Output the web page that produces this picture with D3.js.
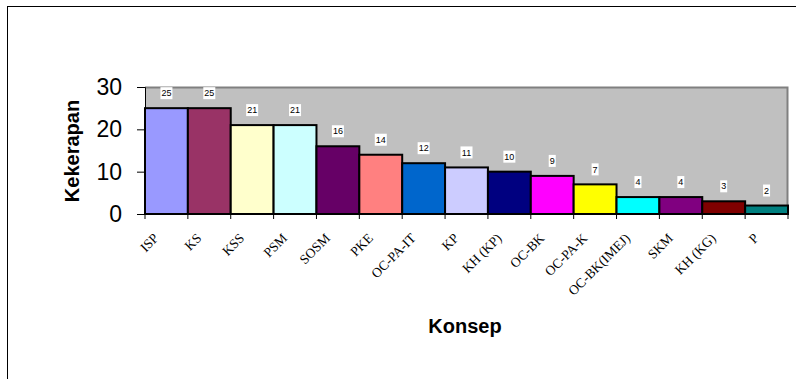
<!DOCTYPE html>
<html>
<head>
<meta charset="utf-8">
<script src="https://cdn.jsdelivr.net/npm/d3@7"></script>
<style>
  html, body { margin: 0; padding: 0; background: #fff; }
  svg { display: block; }
</style>
</head>
<body>
<script>
// Frequency of each concept (Konsep) and its bar colour
const categories = ["ISP", "KS", "KSS", "PSM", "SOSM", "PKE", "OC-PA-IT", "KP", "KH (KP)", "OC-BK", "OC-PA-K", "OC-BK(IMEJ)", "SKM", "KH (KG)", "P"];
const values = [25, 25, 21, 21, 16, 14, 12, 11, 10, 9, 7, 4, 4, 3, 2];
const colors = ["#9999FF", "#993366", "#FFFFCC", "#CCFFFF", "#660066", "#FF8080", "#0066CC", "#CCCCFF", "#000080", "#FF00FF", "#FFFF00", "#00FFFF", "#800080", "#800000", "#008080"];
const yTicks = [0, 10, 20, 30];
const yTitle = "Kekerapan";
const xTitle = "Konsep";

const W = 796, H = 379;
const plot = { left: 145, top: 87, right: 788, bottom: 214 };

const svg = d3.select("body").append("svg").attr("width", W).attr("height", H);

// Outer chart frame
svg.append("rect")
  .attr("x", 7.5).attr("y", 6.5)
  .attr("width", W + 10).attr("height", H + 10)
  .attr("fill", "#fff").attr("stroke", "#000").attr("stroke-width", 1);

const x = d3.scaleBand().domain(categories).range([plot.left, plot.right]).padding(0);
const y = d3.scaleLinear().domain([0, 30]).range([plot.bottom, plot.top]);

// Plot area background
svg.append("rect")
  .attr("x", plot.left).attr("y", plot.top)
  .attr("width", plot.right - plot.left).attr("height", plot.bottom - plot.top)
  .attr("fill", "#C0C0C0");
svg.append("path")
  .attr("d", `M${plot.left},${plot.top + 0.5}H${plot.right - 0.5}V${plot.bottom}`)
  .attr("fill", "none").attr("stroke", "#808080").attr("stroke-width", 2);

// Bars
svg.append("g").selectAll("rect").data(values).join("rect")
  .attr("x", (d, i) => x(categories[i]))
  .attr("y", d => y(d))
  .attr("width", x.bandwidth())
  .attr("height", d => y(0) - y(d))
  .attr("fill", (d, i) => colors[i])
  .attr("stroke", "#000").attr("stroke-width", 2);

// Value labels on white boxes
const lbl = svg.append("g").selectAll("g").data(values).join("g")
  .attr("transform", (d, i) => `translate(${x(categories[i]) + x.bandwidth() / 2},${y(d) - 15})`);
lbl.append("rect")
  .attr("x", d => String(d).length > 1 ? -6 : -3.5)
  .attr("y", -6)
  .attr("width", d => String(d).length > 1 ? 12 : 7)
  .attr("height", 12)
  .attr("fill", "#fff");
lbl.append("text")
  .attr("text-anchor", "middle").attr("dy", "0.35em")
  .attr("font-family", "Arial, 'Liberation Sans', sans-serif")
  .attr("font-size", 9).attr("fill", "#000")
  .text(d => d);

// Y axis
const yAxis = svg.append("g")
  .attr("transform", `translate(${plot.left},0)`)
  .call(d3.axisLeft(y).tickValues(yTicks).tickSize(8).tickPadding(15));
yAxis.select(".domain").attr("stroke", "#000").attr("stroke-width", 1);
yAxis.selectAll(".tick line").attr("stroke", "#000");
yAxis.selectAll(".tick text")
  .attr("font-family", "Arial, 'Liberation Sans', sans-serif")
  .attr("font-size", 23).attr("fill", "#000");

// X axis: ticks at category boundaries
const bx = svg.append("g");
bx.append("line")
  .attr("x1", plot.left).attr("x2", plot.right)
  .attr("y1", plot.bottom).attr("y2", plot.bottom)
  .attr("stroke", "#000").attr("stroke-width", 2);
bx.selectAll("line.tk").data(d3.range(categories.length + 1)).join("line")
  .attr("class", "tk")
  .attr("x1", i => plot.left + i * x.step()).attr("x2", i => plot.left + i * x.step())
  .attr("y1", plot.bottom).attr("y2", plot.bottom + 5)
  .attr("stroke", "#000").attr("stroke-width", 1);

// Rotated category labels
svg.append("g").selectAll("text").data(categories).join("text")
  .attr("transform", d => `translate(${x(d) + x.bandwidth() / 2 - 7},${plot.bottom + 25}) rotate(-45)`)
  .attr("text-anchor", "end")
  .attr("font-family", "'Times New Roman', 'Liberation Serif', serif")
  .attr("font-size", 13.5).attr("fill", "#000")
  .text(d => d);

// Axis titles
svg.append("text")
  .attr("transform", `translate(79,151) rotate(-90)`)
  .attr("text-anchor", "middle")
  .attr("font-family", "Arial, 'Liberation Sans', sans-serif")
  .attr("font-weight", "bold").attr("font-size", 20)
  .text(yTitle);
svg.append("text")
  .attr("x", 465).attr("y", 333)
  .attr("text-anchor", "middle")
  .attr("font-family", "Arial, 'Liberation Sans', sans-serif")
  .attr("font-weight", "bold").attr("font-size", 20)
  .text(xTitle);
</script>
</body>
</html>
